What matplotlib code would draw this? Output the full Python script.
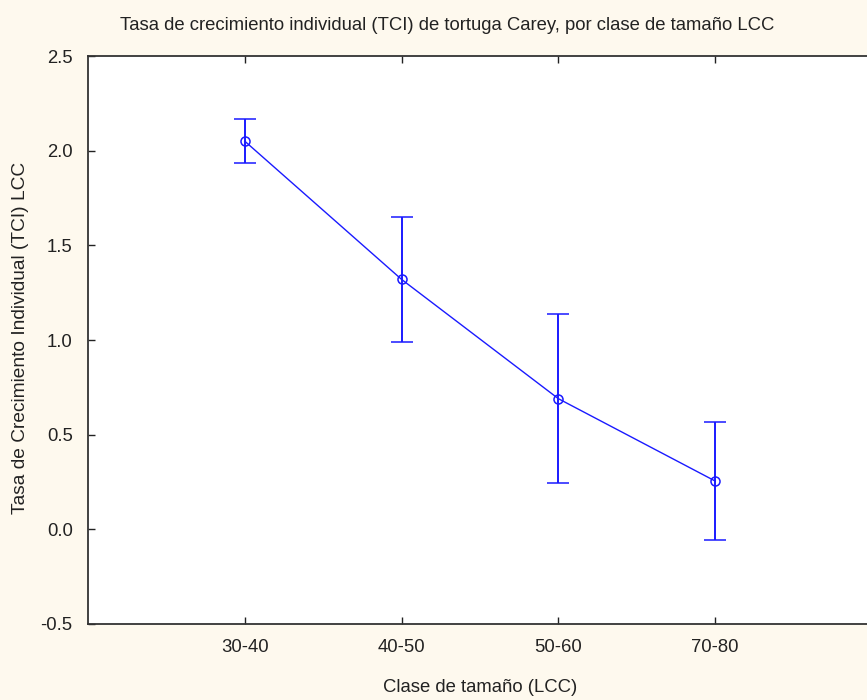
import matplotlib
matplotlib.use("Agg")
import matplotlib.pyplot as plt
import numpy as np

# size classes (carapace length, LCC) and mean growth rate with error
clases = ["30-40", "40-50", "50-60", "70-80"]
tci_media = [2.05, 1.32, 0.69, 0.255]
tci_error = [0.117, 0.33, 0.445, 0.31]
yticks = [-0.5, 0.0, 0.5, 1.0, 1.5, 2.0, 2.5]

plt.rcParams['font.family'] = ['Liberation Sans', 'DejaVu Sans']

fondo = "#fef9ee"
azul = "#1a1aff"
texto = "#222222"
fs = 13.3

fig = plt.figure(figsize=(8.67, 7.0), dpi=100, facecolor=fondo)
ax = fig.add_axes([88 / 867, 1 - 624 / 700, 784 / 867, 568 / 700])
ax.set_facecolor("white")

x = np.arange(1, len(clases) + 1)
ax.errorbar(x, tci_media, yerr=tci_error, color=azul, lw=1.0, elinewidth=1.4,
            capsize=8, capthick=1.4, marker="o", markersize=6.5,
            markerfacecolor="none", markeredgecolor=azul, markeredgewidth=1.1)

ax.set_xlim(0, 5)
ax.set_ylim(-0.5, 2.5)
ax.set_xticks(x)
ax.set_xticklabels(clases)
ax.set_yticks(yticks)
ax.set_yticklabels(["%.1f" % v for v in yticks])
ax.tick_params(direction="in", length=5, width=1, top=True, right=False,
               labelsize=fs, colors=texto, pad=11)
for s in ax.spines.values():
    s.set_linewidth(1.3)
    s.set_color("#333333")

ax.set_xlabel("Clase de tamaño (LCC)", fontsize=fs, color=texto, labelpad=16)
fig.text(21 / 867, 1 - 338 / 700, "Tasa de Crecimiento Individual (TCI) LCC",
         rotation=90, ha="center", va="center", fontsize=13.8, color=texto)
fig.text(447 / 867, 1 - 26 / 700,
         "Tasa de crecimiento individual (TCI) de tortuga Carey, por clase de tamaño LCC",
         ha="center", va="center", fontsize=fs, color=texto)

fig.savefig("out.png", dpi=100, facecolor=fondo)
